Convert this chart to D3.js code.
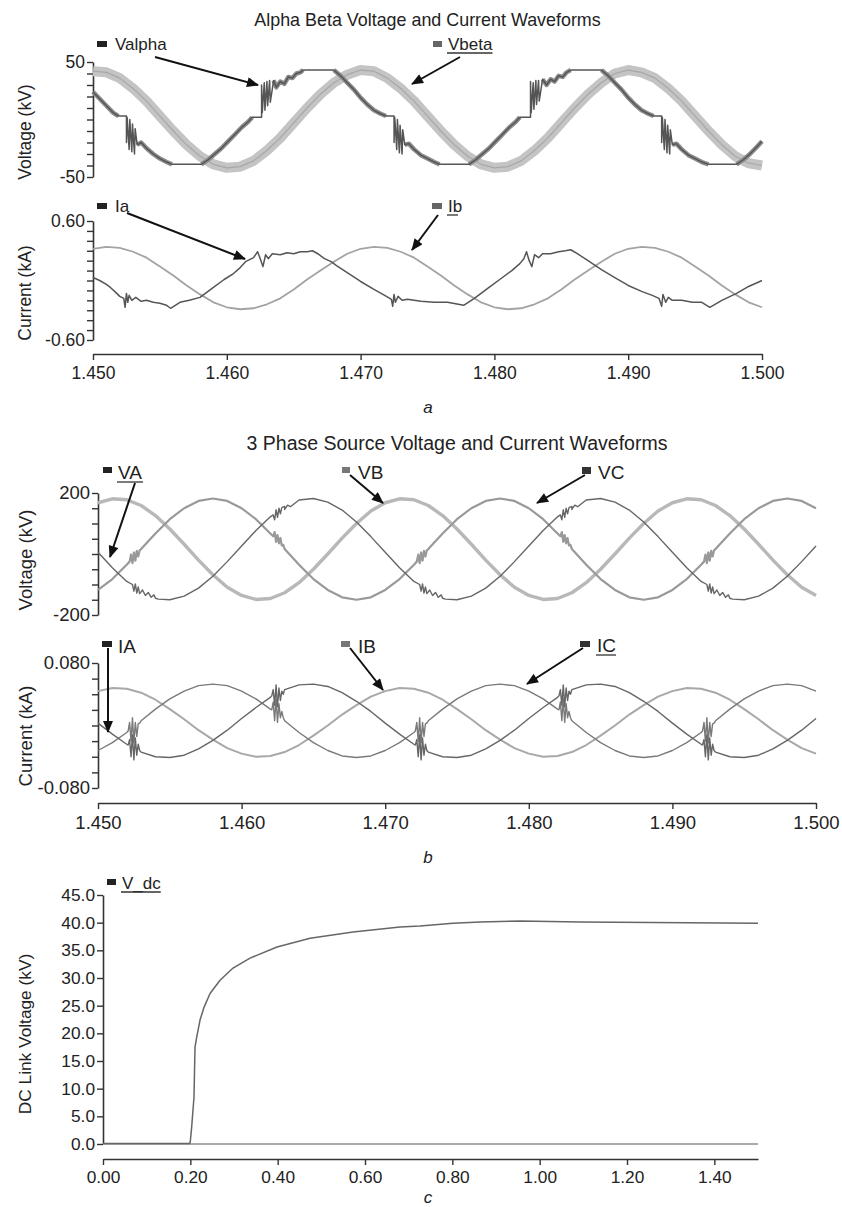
<!DOCTYPE html>
<html><head><meta charset="utf-8">
<script src="https://cdn.jsdelivr.net/npm/d3@7/dist/d3.min.js"></script>
<style>
body{margin:0;background:#fff;}
svg text{font-family:"Liberation Sans",Arial,Helvetica,sans-serif;fill:#222;}
</style></head><body>
<svg id="c" width="842" height="1207"></svg>
<script>
// ---------- DATA ----------
const tGrid = [1.450,1.451,1.452,1.453,1.454,1.455,1.456,1.457,1.458,1.459,1.460,1.461,1.462,1.463,1.464,1.465,1.466,1.467,1.468,1.469,1.470,1.471,1.472,1.473,1.474,1.475,1.476,1.477,1.478,1.479,1.480,1.481,1.482,1.483,1.484,1.485,1.486,1.487,1.488,1.489,1.490,1.491,1.492,1.493,1.494,1.495,1.496,1.497,1.498,1.499,1.500];

// panel a : alpha/beta voltages (kV)
const vBeta = [42,41,36,27,16,3,-10,-22,-32,-39,-42,-41,-36,-27,-16,-3,10,22,32,39,43,42,36,27,16,3,-10,-22,-32,-39,-42,-41,-36,-27,-16,-3,10,22,32,40,43,41,36,27,16,3,-10,-22,-32,-38,-40];
const vAlpha = [[1.4500,24],[1.4505,18],[1.4510,12],[1.4515,6],[1.4519,3],[1.4525,3],[1.4525,-20],[1.45255,2],[1.4527,-26],[1.45275,0],[1.4529,-28],[1.45295,-4],[1.4531,-30],[1.45315,-8],[1.4533,-22],[1.4536,-20],[1.4540,-25],[1.4545,-30],[1.4550,-34],[1.4555,-37],[1.4559,-39],[1.4581,-39],[1.4586,-35],[1.4591,-30],[1.4596,-25],[1.4601,-19],[1.4606,-13],[1.4611,-7],[1.4616,-2],[1.4619,2],[1.4626,2],[1.4626,30],[1.46265,6],[1.4628,32],[1.46285,8],[1.4630,33],[1.46305,12],[1.4632,34],[1.46325,15],[1.4635,34],[1.4637,28],[1.4640,33],[1.4643,31],[1.4646,37],[1.4649,36],[1.4652,40],[1.4655,41],[1.4657,43],[1.4680,43],[1.4685,38],[1.4690,32],[1.4695,26],[1.4700,19],[1.4705,13],[1.4710,8],[1.4715,5],[1.4719,3],[1.4725,3],[1.4725,-20],[1.47255,2],[1.4727,-26],[1.47275,0],[1.4729,-29],[1.47295,-5],[1.4731,-30],[1.47315,-9],[1.4733,-22],[1.4736,-21],[1.4740,-26],[1.4745,-31],[1.4750,-34],[1.4755,-37],[1.4759,-39],[1.4781,-39],[1.4786,-35],[1.4791,-30],[1.4796,-25],[1.4801,-19],[1.4806,-13],[1.4811,-7],[1.4816,-2],[1.4819,2],[1.4827,2],[1.4827,33],[1.48275,6],[1.4829,32],[1.48295,9],[1.4831,34],[1.48315,13],[1.4833,34],[1.48335,16],[1.4836,35],[1.4839,30],[1.4842,35],[1.4845,33],[1.4848,38],[1.4851,37],[1.4854,41],[1.4857,43],[1.4880,43],[1.4885,38],[1.4890,32],[1.4895,26],[1.4900,19],[1.4905,13],[1.4910,8],[1.4915,5],[1.4919,3],[1.4925,3],[1.4925,-20],[1.49255,2],[1.4927,-26],[1.49275,0],[1.4929,-29],[1.49295,-5],[1.4931,-30],[1.49315,-9],[1.4933,-22],[1.4936,-21],[1.4940,-26],[1.4945,-31],[1.4950,-34],[1.4955,-37],[1.4960,-39],[1.4981,-39],[1.4986,-35],[1.4991,-30],[1.4996,-24],[1.5000,-19]];
// time spans where Valpha is a noisy band rather than a clean step
const vAlphaNoisy = [[1.4500,1.4519],[1.4533,1.4559],[1.4581,1.4619],[1.4635,1.4657],[1.4680,1.4719],[1.4733,1.4759],[1.4781,1.4819],[1.4836,1.4857],[1.4880,1.4919],[1.4933,1.4960],[1.4981,1.5000]];

// panel a : alpha/beta currents (kA)
const iB = [0.32,0.34,0.33,0.29,0.23,0.14,0.05,-0.05,-0.14,-0.22,-0.27,-0.29,-0.28,-0.24,-0.18,-0.09,0.01,0.10,0.19,0.27,0.32,0.34,0.33,0.29,0.23,0.14,0.05,-0.05,-0.14,-0.22,-0.27,-0.29,-0.28,-0.24,-0.18,-0.09,0.01,0.10,0.19,0.27,0.32,0.34,0.33,0.29,0.23,0.14,0.05,-0.05,-0.14,-0.22,-0.27];
const iA = [[1.4500,0.03],[1.4505,0.00],[1.4510,-0.04],[1.4513,-0.07],[1.4517,-0.12],[1.4520,-0.16],[1.4523,-0.18],[1.4524,-0.27],[1.4525,-0.13],[1.4526,-0.22],[1.4527,-0.15],[1.4529,-0.20],[1.4532,-0.17],[1.4536,-0.21],[1.4540,-0.20],[1.4545,-0.22],[1.4550,-0.23],[1.4555,-0.25],[1.4558,-0.28],[1.4565,-0.22],[1.4572,-0.20],[1.4580,-0.17],[1.4590,-0.07],[1.4598,0.01],[1.4605,0.07],[1.4610,0.13],[1.4614,0.19],[1.4620,0.23],[1.4623,0.29],[1.4625,0.22],[1.4627,0.14],[1.4629,0.26],[1.4631,0.22],[1.4634,0.27],[1.4640,0.26],[1.4645,0.28],[1.4650,0.27],[1.4655,0.29],[1.4660,0.29],[1.4664,0.30],[1.4668,0.27],[1.4673,0.22],[1.4678,0.19],[1.4682,0.15],[1.4690,0.08],[1.4700,-0.01],[1.4710,-0.09],[1.4718,-0.15],[1.4723,-0.19],[1.4724,-0.26],[1.4725,-0.14],[1.4726,-0.22],[1.4728,-0.16],[1.4731,-0.20],[1.4735,-0.19],[1.4745,-0.21],[1.4755,-0.22],[1.4765,-0.22],[1.4777,-0.25],[1.4785,-0.18],[1.4795,-0.08],[1.4805,0.02],[1.4813,0.10],[1.4819,0.17],[1.4822,0.22],[1.4824,0.29],[1.4826,0.20],[1.4828,0.14],[1.4830,0.26],[1.4833,0.23],[1.4836,0.27],[1.4842,0.27],[1.4848,0.29],[1.4853,0.30],[1.4857,0.31],[1.4862,0.27],[1.4870,0.20],[1.4880,0.11],[1.4890,0.03],[1.4900,-0.05],[1.4910,-0.11],[1.4918,-0.15],[1.4923,-0.18],[1.4925,-0.26],[1.4926,-0.14],[1.4928,-0.22],[1.4930,-0.17],[1.4933,-0.20],[1.4940,-0.20],[1.4948,-0.22],[1.4955,-0.22],[1.4961,-0.27],[1.4970,-0.20],[1.4981,-0.13],[1.4990,-0.06],[1.5000,0.00]];

// panel b : three phase source voltages (kV), 1 ms samples
const vA = [6,-45,-90,-124,-145,-150,-138,-112,-73,-25,26,77,122,156,177,182,170,144,105,57,6,-45,-90,-124,-145,-150,-138,-112,-73,-25,26,77,122,156,177,182,170,144,105,57,6,-45,-90,-124,-145,-150,-138,-112,-73,-25,26];
const vB = [168,181,178,159,126,82,32,-20,-68,-109,-136,-149,-146,-127,-94,-50,0,52,100,141,168,181,178,159,126,82,32,-20,-68,-109,-136,-149,-146,-127,-94,-50,0,52,100,141,168,181,178,159,126,82,32,-20,-68,-109,-136];
const vC = [-118,-82,-35,16,67,114,150,174,182,174,150,114,67,16,-35,-82,-118,-142,-150,-142,-118,-82,-35,16,67,114,150,174,182,174,150,114,67,16,-35,-82,-118,-142,-150,-142,-118,-82,-35,16,67,114,150,174,182,174,150];
// switching disturbances on VA and VC
const vABurst = [[1.4524,-100],[1.4525,-122],[1.4526,-98],[1.4527,-128],[1.4528,-108],[1.4529,-130],[1.4531,-118],[1.4533,-136],[1.4535,-126],[1.4537,-142],[1.4539,-134],[1.4542,-148],
  [1.4622,128],[1.4623,112],[1.4624,145],[1.4625,120],[1.4626,150],[1.4627,132],[1.4628,152],[1.4630,146],[1.4632,160],[1.4634,155],
  [1.4724,-100],[1.4725,-122],[1.4726,-98],[1.4727,-128],[1.4728,-108],[1.4729,-130],[1.4731,-118],[1.4733,-136],[1.4735,-126],[1.4737,-142],[1.4739,-134],[1.4742,-148],
  [1.4822,128],[1.4823,112],[1.4824,145],[1.4825,120],[1.4826,150],[1.4827,132],[1.4828,152],[1.4830,146],[1.4832,160],[1.4834,155],
  [1.4924,-100],[1.4925,-122],[1.4926,-98],[1.4927,-128],[1.4928,-108],[1.4929,-130],[1.4931,-118],[1.4933,-136],[1.4935,-126],[1.4937,-142],[1.4939,-134],[1.4942,-148]];
const vCBurst = [[1.4522,-25],[1.4523,-2],[1.4524,-30],[1.4525,5],[1.4526,-22],[1.4527,10],[1.4528,-8],[1.4529,12],
  [1.4622,58],[1.4623,72],[1.4624,40],[1.4625,62],[1.4626,35],[1.4627,52],[1.4628,28],[1.4629,30],
  [1.4722,-25],[1.4723,-2],[1.4724,-30],[1.4725,5],[1.4726,-22],[1.4727,10],[1.4728,-8],[1.4729,12],
  [1.4822,58],[1.4823,72],[1.4824,40],[1.4825,62],[1.4826,35],[1.4827,52],[1.4828,28],[1.4829,30],
  [1.4922,-25],[1.4923,-2],[1.4924,-30],[1.4925,5],[1.4926,-22],[1.4927,10],[1.4928,-8],[1.4929,12]];

// panel b : three phase source currents (kA), 1 ms samples
const cA = [0.003,-0.011,-0.024,-0.034,-0.040,-0.041,-0.038,-0.030,-0.019,-0.006,0.009,0.023,0.036,0.046,0.052,0.053,0.050,0.042,0.031,0.018,0.003,-0.011,-0.024,-0.034,-0.040,-0.041,-0.038,-0.030,-0.019,-0.006,0.009,0.023,0.036,0.046,0.052,0.053,0.050,0.042,0.031,0.018,0.003,-0.011,-0.024,-0.034,-0.040,-0.041,-0.038,-0.030,-0.019,-0.006,0.009];
const cB = [0.044,0.048,0.047,0.042,0.033,0.021,0.008,-0.006,-0.018,-0.029,-0.036,-0.040,-0.039,-0.034,-0.025,-0.013,0.000,0.014,0.026,0.037,0.044,0.048,0.047,0.042,0.033,0.021,0.008,-0.006,-0.018,-0.029,-0.036,-0.040,-0.039,-0.034,-0.025,-0.013,0.000,0.014,0.026,0.037,0.044,0.048,0.047,0.042,0.033,0.021,0.008,-0.006,-0.018,-0.029,-0.036];
const cC = [-0.032,-0.022,-0.009,0.006,0.021,0.034,0.044,0.051,0.053,0.051,0.044,0.034,0.021,0.006,-0.009,-0.022,-0.032,-0.039,-0.041,-0.039,-0.032,-0.022,-0.009,0.006,0.021,0.034,0.044,0.051,0.053,0.051,0.044,0.034,0.021,0.006,-0.009,-0.022,-0.032,-0.039,-0.041,-0.039,-0.032,-0.022,-0.009,0.006,0.021,0.034,0.044,0.051,0.053,0.051,0.044];
const cABurst = [[1.4521,-0.025],[1.4522,-0.018],[1.4523,-0.040],[1.4524,-0.012],[1.4525,-0.044],[1.4526,-0.016],[1.4527,-0.038],[1.4528,-0.024],[1.4529,-0.032],
  [1.4621,0.038],[1.4622,0.046],[1.4623,0.026],[1.4624,0.052],[1.4625,0.024],[1.4626,0.048],[1.4627,0.032],[1.4628,0.044],[1.4629,0.040],
  [1.4721,-0.025],[1.4722,-0.018],[1.4723,-0.040],[1.4724,-0.012],[1.4725,-0.044],[1.4726,-0.016],[1.4727,-0.038],[1.4728,-0.024],[1.4729,-0.032],
  [1.4821,0.038],[1.4822,0.046],[1.4823,0.026],[1.4824,0.052],[1.4825,0.024],[1.4826,0.048],[1.4827,0.032],[1.4828,0.044],[1.4829,0.040],
  [1.4921,-0.025],[1.4922,-0.018],[1.4923,-0.040],[1.4924,-0.012],[1.4925,-0.044],[1.4926,-0.016],[1.4927,-0.038],[1.4928,-0.024],[1.4929,-0.032]];
const cCBurst = [[1.4521,-0.007],[1.4522,0.004],[1.4523,-0.020],[1.4524,0.010],[1.4525,-0.022],[1.4526,0.004],[1.4527,-0.014],[1.4528,0.002],[1.4529,0.003],
  [1.4621,0.020],[1.4622,0.030],[1.4623,0.006],[1.4624,0.034],[1.4625,0.004],[1.4626,0.028],[1.4627,0.010],[1.4628,0.018],[1.4629,0.010],
  [1.4721,-0.007],[1.4722,0.004],[1.4723,-0.020],[1.4724,0.010],[1.4725,-0.022],[1.4726,0.004],[1.4727,-0.014],[1.4728,0.002],[1.4729,0.003],
  [1.4821,0.020],[1.4822,0.030],[1.4823,0.006],[1.4824,0.034],[1.4825,0.004],[1.4826,0.028],[1.4827,0.010],[1.4828,0.018],[1.4829,0.010],
  [1.4921,-0.007],[1.4922,0.004],[1.4923,-0.020],[1.4924,0.010],[1.4925,-0.022],[1.4926,0.004],[1.4927,-0.014],[1.4928,0.002],[1.4929,0.003]];

// panel c : DC link voltage (kV)
const vDc = [[0,0.1],[0.199,0.1],[0.2,0.5],[0.203,3],[0.2084,8.5],[0.2107,17.5],[0.2146,19.3],[0.2222,22.4],[0.2313,24.7],[0.2451,27.2],[0.268,29.6],[0.2978,31.8],[0.3367,33.6],[0.3985,35.6],[0.4741,37.2],[0.5726,38.3],[0.6802,39.2],[0.726,39.4],[0.8016,39.9],[0.8635,40.1],[0.955,40.3],[1.0925,40.1],[1.5,39.9]];
const vZero = [[0,0],[1.5,0]];

// tick values / labels
const xTicksAB = [1.45,1.46,1.47,1.48,1.49,1.50];
const yTicksAV = [-50,-40,-30,-20,-10,0,10,20,30,40,50];
const yTicksAI = [-0.6,-0.5,-0.4,-0.3,-0.2,-0.1,0,0.1,0.2,0.3,0.4,0.5,0.6];
const yTicksBV = [-200,-150,-100,-50,0,50,100,150,200];
const yTicksBI = [-0.08,-0.06,-0.04,-0.02,0,0.02,0.04,0.06,0.08];
const xTicksC = [0,0.2,0.4,0.6,0.8,1.0,1.2,1.4];
const yTicksC = [0,5,10,15,20,25,30,35,40,45];

// ---------- DRAW ----------
const svg = d3.select('#c');
const defs = svg.append('defs');
defs.append('marker').attr('id','ah').attr('viewBox','0 0 12 10').attr('refX',11).attr('refY',5)
  .attr('markerWidth',13).attr('markerHeight',10).attr('markerUnits','userSpaceOnUse').attr('orient','auto')
  .append('path').attr('d','M0,0 L12,5 L0,10 Z').attr('fill','#111');

const AX = '#333';
function styleAxis(g, fs){
  g.attr('font-family',null).attr('font-size',fs);
  g.select('.domain').attr('stroke',AX).attr('stroke-width',1.6);
  g.selectAll('.tick line').attr('stroke',AX).attr('stroke-width',1.4);
  g.selectAll('.tick text').attr('fill','#222');
}
function yAxis(x0, y, ticks, fmt, fs){
  const g = svg.append('g').attr('transform',`translate(${x0},0)`)
    .call(d3.axisLeft(y).tickValues(ticks).tickFormat(fmt).tickSize(6).tickSizeOuter(0).tickPadding(2));
  styleAxis(g, fs);
}
function xAxis(y0, x, ticks, fmt, fs, pad){
  const g = svg.append('g').attr('transform',`translate(0,${y0})`)
    .call(d3.axisBottom(x).tickValues(ticks).tickFormat(fmt).tickSize(6).tickSizeOuter(0).tickPadding(pad));
  styleAxis(g, fs);
}
function line(x, y, pts, color, w){
  svg.append('path').datum(pts).attr('fill','none').attr('stroke',color).attr('stroke-width',w)
    .attr('stroke-linejoin','round').attr('d', d3.line().x(d=>x(d[0])).y(d=>y(d[1])));
}
const zipT = vs => tGrid.map((t,i)=>[t, vs[i]]);
const merge = (vs, extra) => zipT(vs).concat(extra).sort((a,b)=>a[0]-b[0]);
function text(x, y, s, fs, opts={}){
  const t = svg.append('text').attr('x',x).attr('y',y).attr('font-size',fs).text(s);
  if (opts.anchor) t.attr('text-anchor',opts.anchor);
  if (opts.rot) t.attr('transform',`rotate(-90,${x},${y})`);
  if (opts.italic) t.attr('font-style','italic');
  return t;
}
function legend(rx, ry, rw, rh, color, tx, ty, label, fs, ul){
  svg.append('rect').attr('x',rx).attr('y',ry).attr('width',rw).attr('height',rh).attr('fill',color);
  const t = text(tx, ty, label, fs);
  if (ul){
    const w = ul === true ? t.node().getComputedTextLength() : ul;
    svg.append('line').attr('x1',tx-1).attr('x2',tx+w).attr('y1',ty+3).attr('y2',ty+3).attr('stroke','#333').attr('stroke-width',1.3);
  }
}
function arrow(x1,y1,x2,y2){
  svg.append('line').attr('x1',x1).attr('y1',y1).attr('x2',x2).attr('y2',y2)
    .attr('stroke','#111').attr('stroke-width',2).attr('marker-end','url(#ah)');
}

// ===== Panel a =====
const FA = 17.5;
const xA = d3.scaleLinear().domain([1.45,1.50]).range([93,762]);
const yAV = d3.scaleLinear().domain([-50,50]).range([177,62]);
const yAI = d3.scaleLinear().domain([-0.6,0.6]).range([340,221]);
text(427.5, 26, 'Alpha Beta Voltage and Current Waveforms', 17.9, {anchor:'middle'});
yAxis(93, yAV, yTicksAV, d => (d===50||d===-50) ? String(d) : '', FA);
yAxis(93, yAI, yTicksAI, d => d===0.6 ? '0.60' : d===-0.6 ? '-0.60' : '', FA);
xAxis(354, xA, xTicksAB, d3.format('.3f'), FA, 7);
text(31, 132, 'Voltage (kV)', FA, {anchor:'middle', rot:true});
text(31, 293, 'Current (kA)', FA, {anchor:'middle', rot:true});
line(xA, yAV, zipT(vBeta), '#c4c4c4', 10);
line(xA, yAV, zipT(vBeta), '#a8a8a8', 1.2);
vAlphaNoisy.forEach(([a,b]) => line(xA, yAV, vAlpha.filter(d => d[0]>=a && d[0]<=b), '#8c8c8c', 4.5));
line(xA, yAV, vAlpha, '#555', 1.5);
line(xA, yAI, zipT(iB), '#a3a3a3', 1.8);
line(xA, yAI, iA, '#555', 1.5);
legend(97, 41, 10, 6, '#222', 115, 50, 'Valpha', 17);
legend(433, 41, 9, 6, '#666', 448, 50, 'Vbeta', 17, true);
legend(97, 203, 10, 6, '#222', 115, 212, 'Ia', 17);
legend(432, 203, 10, 6, '#666', 448, 212, 'Ib', 17, 10);
arrow(155, 57, 258, 85);
arrow(460, 57, 412, 84);
arrow(127, 213, 245, 259);
arrow(438, 215, 412, 250);
text(428, 413, 'a', 17, {anchor:'middle', italic:true});

// ===== Panel b =====
const FB = 18.5;
const xB = d3.scaleLinear().domain([1.45,1.50]).range([98,816]);
const yBV = d3.scaleLinear().domain([-200,200]).range([615,493]);
const yBI = d3.scaleLinear().domain([-0.08,0.08]).range([788,663]);
text(457, 450, '3 Phase Source Voltage and Current Waveforms', 19.5, {anchor:'middle'});
yAxis(98, yBV, yTicksBV, d => (d===200||d===-200) ? String(d) : '', FB);
yAxis(98, yBI, yTicksBI, d => d===0.08 ? '0.080' : d===-0.08 ? '-0.080' : '', FB);
xAxis(803, xB, xTicksAB, d3.format('.3f'), FB, 7);
text(32, 560, 'Voltage (kV)', FB, {anchor:'middle', rot:true});
text(32, 736, 'Current (kA)', FB, {anchor:'middle', rot:true});
line(xB, yBV, zipT(vB), '#b8b8b8', 3.4);
line(xB, yBV, merge(vC, vCBurst), '#999', 2.2);
line(xB, yBV, merge(vA, vABurst), '#666', 1.4);
line(xB, yBI, zipT(cB), '#a8a8a8', 2);
line(xB, yBI, merge(cC, cCBurst), '#7a7a7a', 1.4);
line(xB, yBI, merge(cA, cABurst), '#666', 1.4);
legend(103, 467, 9, 6, '#222', 118, 479, 'VA', 19, 25);
legend(342, 467, 8, 6, '#777', 358, 479, 'VB', 19);
legend(582, 467, 9, 7, '#333', 598, 479, 'VC', 19);
legend(102, 641, 10, 6, '#222', 118, 653, 'IA', 19);
legend(341, 641, 9, 6, '#777', 358, 653, 'IB', 19);
legend(580, 641, 10, 6, '#333', 597, 652, 'IC', 19, true);
arrow(135, 483, 110, 557);
arrow(350, 475, 383, 503);
arrow(585, 475, 537, 503);
arrow(108, 648, 108, 732);
arrow(350, 648, 383, 690);
arrow(583, 648, 527, 684);
text(428, 863, 'b', 17, {anchor:'middle', italic:true});

// ===== Panel c =====
const FC = 17.3;
const xC = d3.scaleLinear().domain([0,1.5]).range([103,758]);
const yC = d3.scaleLinear().domain([0,45]).range([1144,895]);
yAxis(103, yC, yTicksC, d3.format('.1f'), FC);
xAxis(1159, xC, xTicksC, d3.format('.2f'), FC, 6);
text(31, 1034, 'DC Link Voltage (kV)', FC, {anchor:'middle', rot:true});
line(xC, yC, vZero, '#aaa', 2);
line(xC, yC, vDc, '#666', 1.5);
legend(107, 879, 9, 6, '#222', 122, 889, 'V_dc', 17, true);
text(428, 1203, 'c', 17, {anchor:'middle', italic:true});
</script>
</body></html>
